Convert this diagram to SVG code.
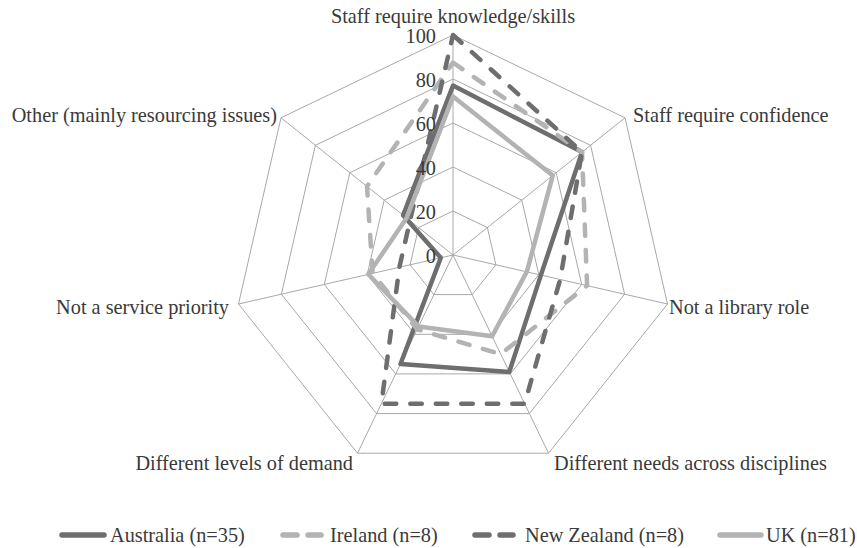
<svg xmlns="http://www.w3.org/2000/svg" width="857" height="548" viewBox="0 0 857 548">
<style>
.grid{fill:none;stroke:#a8a8a8;stroke-width:1}
.s{fill:none;stroke-width:4.5;stroke-linejoin:round;stroke-linecap:round}
.dk{stroke:#6e6e70}
.lt{stroke:#b3b3b3}
.da{stroke-dasharray:11.5 14}
.t{font-family:"Liberation Serif","Times New Roman",serif;font-size:20.3px;fill:#3a3a3a}
.lg{fill:none;stroke-width:5.5;stroke-linecap:round}
</style>
<rect width="857" height="548" fill="#ffffff"/>
<g id="grid" class="grid" transform="translate(453,255)">
<polygon points="0,-220 172.0,-137.2 214.5,49.0 95.5,198.2 -95.5,198.2 -214.5,49.0 -172.0,-137.2"/>
<polygon points="0,-176 137.6,-109.7 171.6,39.2 76.4,158.6 -76.4,158.6 -171.6,39.2 -137.6,-109.7"/>
<polygon points="0,-132 103.2,-82.3 128.7,29.4 57.3,118.9 -57.3,118.9 -128.7,29.4 -103.2,-82.3"/>
<polygon points="0,-88 68.8,-54.9 85.8,19.6 38.2,79.3 -38.2,79.3 -85.8,19.6 -68.8,-54.9"/>
<polygon points="0,-44 34.4,-27.4 42.9,9.8 19.1,39.6 -19.1,39.6 -42.9,9.8 -34.4,-27.4"/>
<path d="M0,0L0,-220M0,0L172.0,-137.2M0,0L214.5,49.0M0,0L95.5,198.2M0,0L-95.5,198.2M0,0L-214.5,49.0M0,0L-172.0,-137.2"/>
</g>
<g id="connectors" transform="translate(453,255)">
<polygon id="s-australia" class="s dk" points="0,-169.4 129.0,-102.9 87.9,20.1 56.3,116.9 -52.5,109.0 -12.2,2.8 -49.9,-39.8"/>
<polygon id="s-ireland" class="s lt da" points="0,-192.5 129.0,-102.9 134.1,30.6 47.7,99.1 -35.8,74.3 -80.4,18.4 -86.0,-68.6"/>
<polygon id="s-nz" class="s dk da" points="0,-220 129.0,-102.9 107.2,24.5 71.6,148.7 -71.6,148.7 -53.6,12.2 -43.0,-34.3"/>
<polygon id="s-uk" class="s lt" points="0,-158.4 99.8,-79.6 73.8,16.8 39.1,81.3 -34.4,71.4 -84.7,19.3 -46.4,-37.0"/>
</g>
<g id="scale" class="t" text-anchor="end">
<text x="436" y="43">100</text>
<text x="436" y="87">80</text>
<text x="436" y="131">60</text>
<text x="436" y="175">40</text>
<text x="436" y="219">20</text>
<text x="436" y="263">0</text>
</g>
<g id="n-knowledge"><text class="t" x="453" y="23" text-anchor="middle">Staff require knowledge/skills</text></g>
<g id="n-confidence"><text class="t" x="633" y="122">Staff require confidence</text></g>
<g id="n-library"><text class="t" x="669" y="314">Not a library role</text></g>
<g id="n-needs"><text class="t" x="554" y="470">Different needs across disciplines</text></g>
<g id="n-demand"><text class="t" x="353" y="470" text-anchor="end">Different levels of demand</text></g>
<g id="n-priority"><text class="t" x="229" y="314" text-anchor="end">Not a service priority</text></g>
<g id="n-other"><text class="t" x="277" y="122" text-anchor="end">Other (mainly resourcing issues)</text></g>
<g id="legend">
<line class="lg dk" x1="62" y1="535" x2="104" y2="535"/>
<text class="t" x="110" y="542">Australia (n=35)</text>
<line class="lg lt" x1="283" y1="535" x2="321" y2="535" stroke-dasharray="14 11"/>
<text class="t" x="330" y="542">Ireland (n=8)</text>
<line class="lg dk" x1="475" y1="535" x2="513" y2="535" stroke-dasharray="14 11"/>
<text class="t" x="525" y="542">New Zealand (n=8)</text>
<line class="lg lt" x1="720" y1="535" x2="761" y2="535"/>
<text class="t" x="766" y="542">UK (n=81)</text>
</g>
</svg>
